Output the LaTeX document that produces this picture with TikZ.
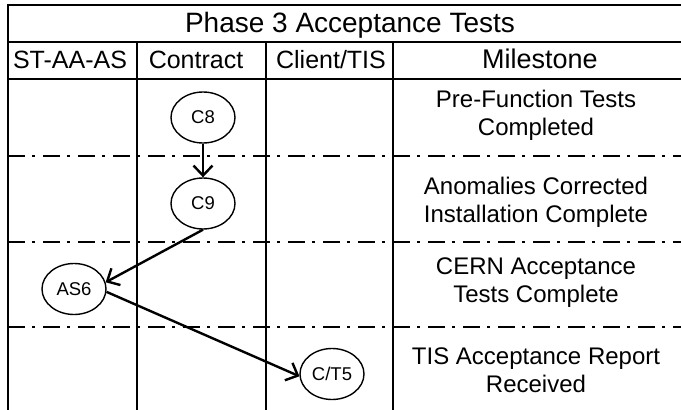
\documentclass[tikz,border=0pt]{standalone}
\usepackage{fontspec}
\setmainfont{Liberation Sans}
\usetikzlibrary{shapes.geometric,arrows.meta}
\begin{document}
\begin{tikzpicture}[x=1pt,y=-1pt,
  grid/.style={line width=1.6pt},
  sep/.style={line width=1.6pt, dash pattern=on 17pt off 7pt on 3pt off 8pt},
  evt/.style={ellipse,draw,line width=1.4pt,minimum width=64pt,minimum height=51pt,inner sep=0pt,font=\fontsize{18.5}{20}\selectfont},
  flow/.style={line width=2.4pt,line join=round,-{Straight Barb[length=10pt,width=19pt,line width=2.4pt]}},
  hdr/.style={anchor=base,inner sep=0pt,font=\fontsize{25}{28}\selectfont},
  ttl/.style={anchor=base,inner sep=0pt,font=\fontsize{28}{30}\selectfont},
  ms/.style={anchor=base,align=center,inner sep=0pt,font=\fontsize{24}{28}\selectfont}]

\useasboundingbox (0,0) rectangle (681,410);

% frame and table rules
\draw[grid] (8,410) -- (8,5) -- (681,5);
\draw[grid] (8,42) -- (681,42);
\draw[grid] (8,79) -- (681,79);
\draw[grid] (137,42) -- (137,410);
\draw[grid] (266,42) -- (266,410);
\draw[grid] (393,42) -- (393,410);

% dash-dot separators
\draw[sep] (8,156) -- (681,156);
\draw[sep] (8,242) -- (681,242);
\draw[sep] (8,327) -- (681,327);

% title and headers
\node[ttl] (title) at (350,32) {Phase 3 Acceptance Tests};
\node[hdr] (h1) at (70,68) {ST-AA-AS};
\node[hdr] (h2) at (196,68) {Contract};
\node[hdr] (h3) at (331,68) {Client/TIS};
\node[hdr,font=\fontsize{27}{30}\selectfont] (h4) at (540,68) {Milestone};

% milestones (anchor = baseline of last line)
\node[ms] (m1) at (536,135) {Pre-Function Tests\\Completed};
\node[ms] (m2) at (536,222) {Anomalies Corrected\\Installation Complete};
\node[ms] (m3) at (536,302) {CERN Acceptance\\Tests Complete};
\node[ms] (m4) at (536,392) {TIS Acceptance Report\\Received};

% events
\node[evt] (C8) at (203,117.5) {C8};
\node[evt] (C9) at (203,203.5) {C9};
\node[evt] (AS6) at (74,289) {AS6};
\node[evt] (CT5) at (332,374) {C/T5};

% connectors
\draw[flow] (C8.south) -- (C9.north);
\draw[flow] (C9.south) -- (AS6.12);
\draw[flow] (AS6.-5) -- (CT5.184);
\end{tikzpicture}
\end{document}
